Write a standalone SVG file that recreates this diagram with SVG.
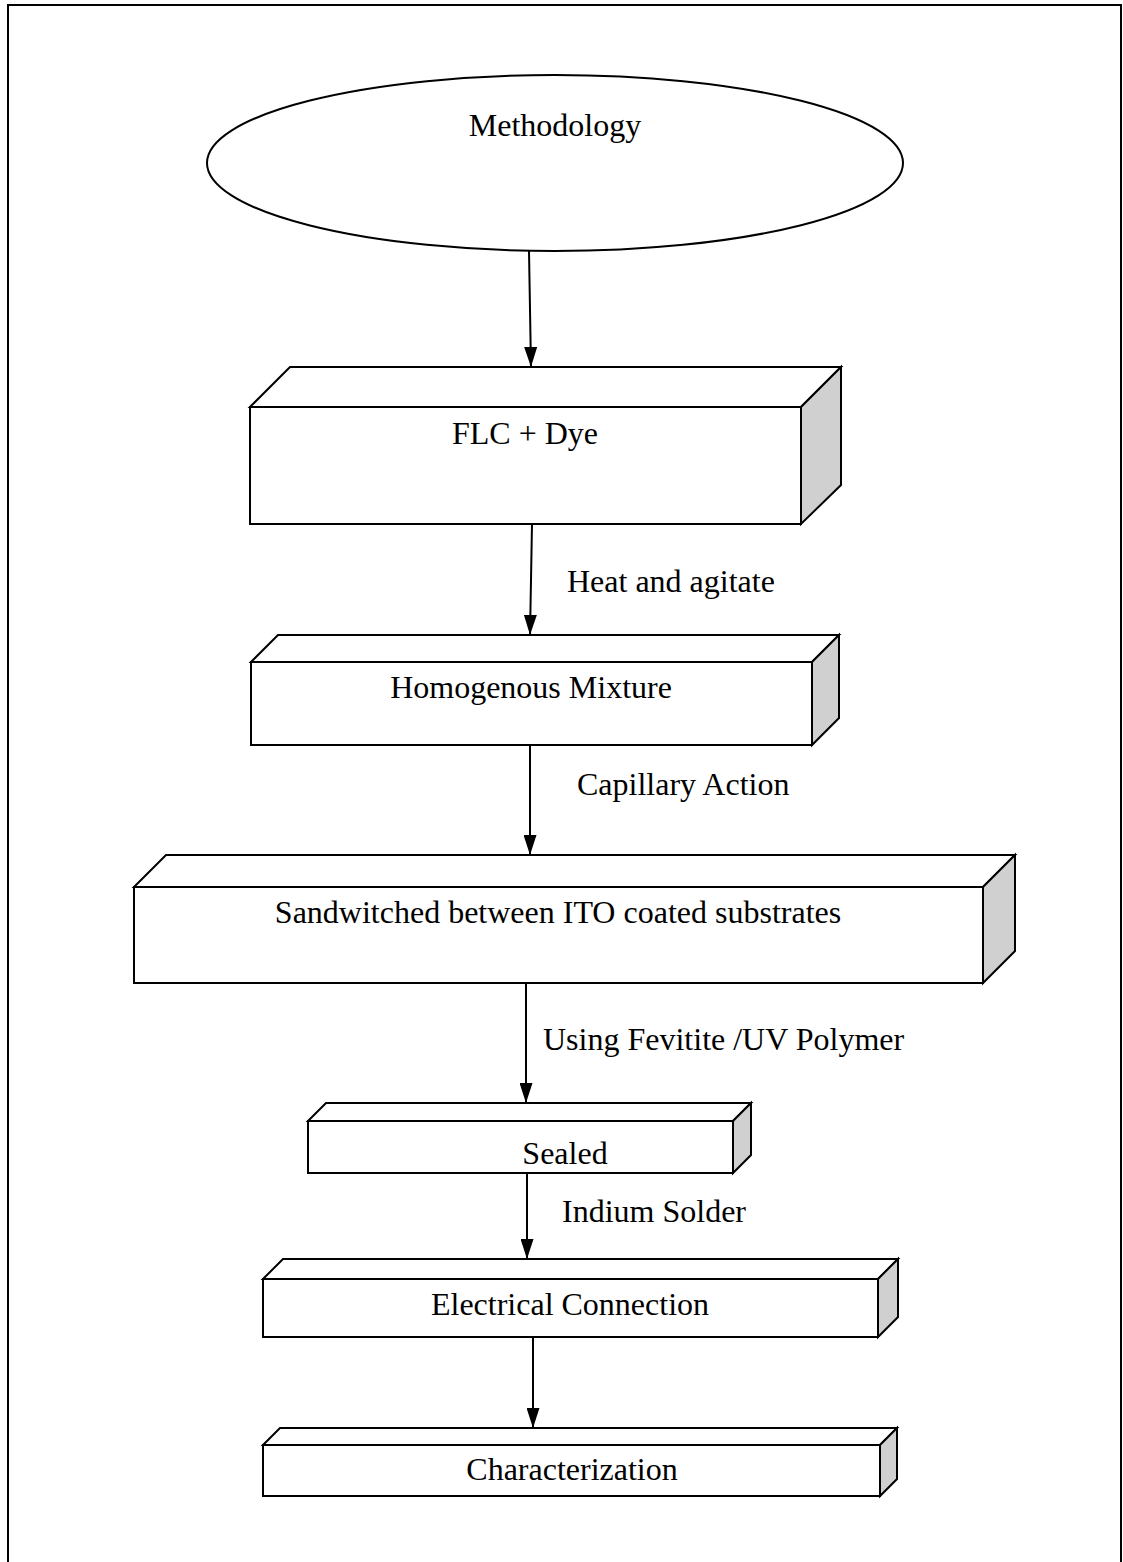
<svg xmlns="http://www.w3.org/2000/svg" width="1123" height="1562" viewBox="0 0 1123 1562">
<defs>
<style>
.ln{fill:none;stroke:#000;stroke-width:2}
.face{fill:#fff;stroke:#000;stroke-width:2;stroke-linejoin:miter}
.side{fill:#d0d0d0;stroke:#000;stroke-width:2}
.t{font-family:"Liberation Serif","Times New Roman",serif;font-size:32px;fill:#000}
.c{text-anchor:middle}
</style>
<marker id="ah" markerWidth="20" markerHeight="13" refX="20" refY="6.5" orient="auto" markerUnits="userSpaceOnUse" viewBox="0 0 20 13">
<path d="M0,0 L20,6.5 L0,13 z" fill="#000"/>
</marker>
</defs>
<rect width="1123" height="1562" fill="#fff"/>
<rect x="8" y="5" width="1113" height="1600" class="ln"/>

<g id="methodology">
<ellipse cx="555" cy="163" rx="348" ry="88" class="face"/>
<text x="555" y="136" class="t c">Methodology</text>
</g>

<g id="flc-dye">
<polygon points="250,407 290,367 841,367 801,407" class="face"/>
<polygon points="801,407 841,367 841,485 801,524" class="side"/>
<rect x="250" y="407" width="551" height="117" class="face"/>
<text x="525" y="444" class="t c">FLC + Dye</text>
</g>

<g id="homogenous">
<polygon points="251,662 278,635 839,635 812,662" class="face"/>
<polygon points="812,662 839,635 839,718 812,745" class="side"/>
<rect x="251" y="662" width="561" height="83" class="face"/>
<text x="531" y="698" class="t c">Homogenous Mixture</text>
</g>

<g id="sandwiched">
<polygon points="134,887 166,855 1015,855 983,887" class="face"/>
<polygon points="983,887 1015,855 1015,951 983,983" class="side"/>
<rect x="134" y="887" width="849" height="96" class="face"/>
<text x="558" y="923" class="t c">Sandwitched between ITO coated substrates</text>
</g>

<g id="sealed">
<polygon points="308,1121 326,1103 751,1103 733,1121" class="face"/>
<polygon points="733,1121 751,1103 751,1155 733,1173" class="side"/>
<rect x="308" y="1121" width="425" height="52" class="face"/>
<text x="565" y="1164" class="t c">Sealed</text>
</g>

<g id="electrical">
<polygon points="263,1279 283,1259 898,1259 878,1279" class="face"/>
<polygon points="878,1279 898,1259 898,1317 878,1337" class="side"/>
<rect x="263" y="1279" width="615" height="58" class="face"/>
<text x="570" y="1315" class="t c">Electrical Connection</text>
</g>

<g id="characterization">
<polygon points="263,1445 280,1428 897,1428 880,1445" class="face"/>
<polygon points="880,1445 897,1428 897,1479 880,1496" class="side"/>
<rect x="263" y="1445" width="617" height="51" class="face"/>
<text x="572" y="1480" class="t c">Characterization</text>
</g>

<g id="connectors">
<line x1="529" y1="251" x2="531" y2="367" class="ln" marker-end="url(#ah)"/>
<line x1="532" y1="524" x2="530" y2="635" class="ln" marker-end="url(#ah)"/>
<line x1="530" y1="745" x2="530" y2="855" class="ln" marker-end="url(#ah)"/>
<line x1="526" y1="983" x2="526" y2="1103" class="ln" marker-end="url(#ah)"/>
<line x1="527" y1="1173" x2="527" y2="1259" class="ln" marker-end="url(#ah)"/>
<line x1="533" y1="1337" x2="533" y2="1428" class="ln" marker-end="url(#ah)"/>
<text x="567" y="592" class="t">Heat and agitate</text>
<text x="577" y="795" class="t">Capillary Action</text>
<text x="543" y="1050" class="t">Using Fevitite /UV Polymer</text>
<text x="562" y="1222" class="t">Indium Solder</text>
</g>
</svg>
